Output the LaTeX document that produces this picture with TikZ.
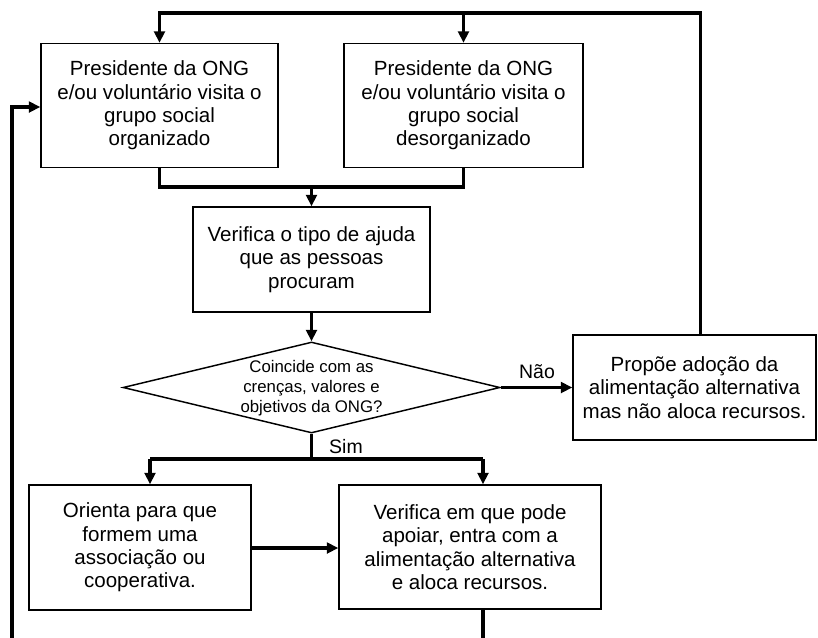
\documentclass[tikz,border=0pt]{standalone}
\usepackage{fontspec}
\setmainfont{Liberation Sans}
\usetikzlibrary{arrows.meta,shapes.geometric,calc}
\begin{document}
\begin{tikzpicture}[x=0.75pt,y=-0.75pt,
  box/.style={draw,line width=1.1pt,align=center,inner sep=0pt,
    font=\fontsize{15.4}{17.5}\selectfont},
  conn/.style={line width=2.4pt},
  arr/.style={conn,-{Triangle[length=8.5pt,width=8pt]}},
  lbl/.style={font=\fontsize{14.6}{16}\selectfont,inner sep=0pt}]
\useasboundingbox (0,0) rectangle (818,637);
\clip (0,0) rectangle (818,637);
\fill[white] (0,0) rectangle (818,637);

\node[box,minimum width=237*0.75pt,minimum height=124*0.75pt] (b1) at (159.5,105.5)
  {Presidente da ONG\\e/ou voluntário visita o\\grupo social\\organizado};
\node[box,minimum width=239*0.75pt,minimum height=124*0.75pt] (b2) at (463.5,105.5)
  {Presidente da ONG\\e/ou voluntário visita o\\grupo social\\desorganizado};
\node[box,minimum width=237*0.75pt,minimum height=105*0.75pt] (b3) at (311.5,259.5)
  {Verifica o tipo de ajuda\\que as pessoas\\procuram};
\node[draw,line width=1.1pt,diamond,inner sep=0pt,minimum width=377*0.75pt,
  minimum height=91*0.75pt,aspect=4.14] (d) at (311.5,387.5) {};
\node[align=center,inner sep=0pt,font=\fontsize{12.6}{15}\selectfont] (dt) at (311.5,388)
  {Coincide com as\\crenças, valores e\\objetivos da ONG?};
\node[box,minimum width=243*0.75pt,minimum height=105*0.75pt] (p) at (694.5,387.5)
  {Propõe adoção da\\alimentação alternativa\\mas não aloca recursos.};
\node[box,minimum width=222*0.75pt,minimum height=125*0.75pt] (b4) at (140,547.5)
  {Orienta para que\\formem uma\\associação ou\\cooperativa.};
\node[box,minimum width=262*0.75pt,minimum height=124*0.75pt] (b5) at (470,547)
  {Verifica em que pode\\apoiar, entra com a\\alimentação alternativa\\e aloca recursos.};

\coordinate (top) at (0,13);
\coordinate (pt) at ($(p.north)+(6,0)$);
\coordinate (j1) at (0,187);
\coordinate (s4) at (150,459);
\coordinate (s5) at (483,459);
\coordinate (lb) at (12,660);
\coordinate (b5s) at (483,609);

% feedback from "Propoe" to top boxes
\draw[arr] (pt) |- (b1.north |- top) -- (b1.north);
\draw[arr] (b2.north |- top) -- (b2.north);
% merge into b3
\draw[conn] (b1.south) |- (b3.north |- j1);
\draw[conn] (b2.south) |- (b3.north |- j1);
\draw[arr] (b3.north |- j1) -- (b3.north);
% b3 to decision
\draw[arr] (b3.south) -- (d.north);
% Nao
\draw[arr] (d.east) -- (p.west);
\node[lbl] (nao) at (537,372) {Não};
% Sim
\draw[conn] (d.south) |- (s4);
\draw[conn] (d.south |- s5) -- (s5);
\draw[arr] (s4) -- (s4 |- b4.north);
\draw[arr] (s5) -- (s5 |- b5.north);
\node[lbl] (sim) at (346,447) {Sim};
% b4 to b5
\draw[arr] (b4.east |- 0,548) -- (b5.west |- 0,548);
% loop back
\draw[arr] (b5s) -- (b5s |- lb) -| (12,107) -- (b1.west |- 0,107);
\end{tikzpicture}
\end{document}
